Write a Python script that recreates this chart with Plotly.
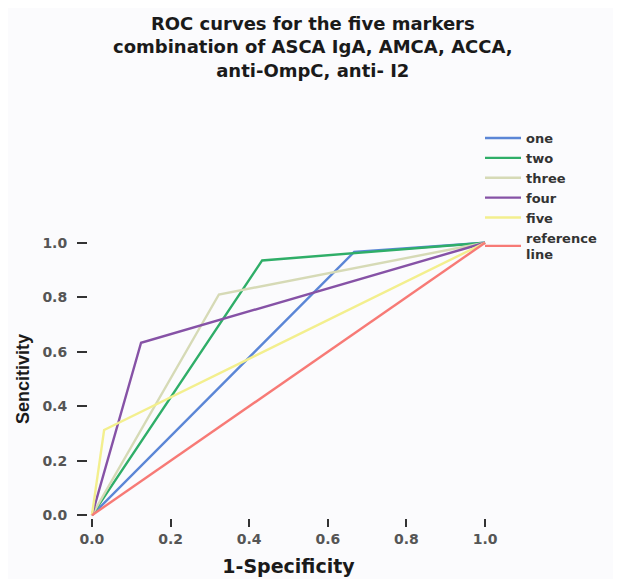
import plotly.graph_objects as go

series_names = ["one", "two", "three", "four", "five", "reference<br>line"]
x_one = [0.0, 0.667, 1.0]
y_one = [0.0, 0.966, 1.0]
x_two = [0.0, 0.433, 1.0]
y_two = [0.0, 0.935, 1.0]
x_three = [0.0, 0.323, 1.0]
y_three = [0.0, 0.81, 1.0]
x_four = [0.0, 0.125, 1.0]
y_four = [0.0, 0.633, 1.0]
x_five = [0.0, 0.031, 1.0]
y_five = [0.0, 0.313, 1.0]
x_ref = [0.0, 1.0]
y_ref = [0.0, 1.0]
tick_vals = [0.0, 0.2, 0.4, 0.6, 0.8, 1.0]
tick_text = ["0.0", "0.2", "0.4", "0.6", "0.8", "1.0"]
title_lines = ["ROC curves for the five markers",
               "combination of ASCA IgA, AMCA, ACCA,",
               "anti-OmpC, anti- I2"]

colors = ["#5b86d6", "#2fae68", "#d6dab6", "#8652a6", "#f3ef8e", "#f77a76"]
xs = [x_one, x_two, x_three, x_four, x_five, x_ref]
ys = [y_one, y_two, y_three, y_four, y_five, y_ref]

fig = go.Figure()
for i, (name, x, y, c) in enumerate(zip(series_names, xs, ys, colors)):
    fig.add_trace(go.Scatter(x=x, y=y, mode="lines", name=name,
                             line=dict(color=c, width=2.4)))

W, H = 621, 579
ML, MR, MT, MB = 80, 140, 232, 69
PW, PH = W - ML - MR, H - MT - MB
fig.add_annotation(text="<br>".join(title_lines), xref="paper", yref="paper",
                   x=(305 - ML) / PW, y=(H - MB - 39) / PH,
                   xanchor="center", yanchor="middle", showarrow=False,
                   align="center",
                   font=dict(family="DejaVu Sans", size=18, color="#1a1a1a", weight="bold"))

bg = "#fbfbfd"
fig.update_layout(
    width=W, height=H,
    paper_bgcolor=bg, plot_bgcolor=bg,
    margin=dict(l=ML, r=MR, t=MT, b=MB, autoexpand=False),
    showlegend=True,
    legend=dict(
        xref="container", yref="container",
        x=472 / W, y=1 - 115 / H, xanchor="left", yanchor="top",
        font=dict(family="DejaVu Sans", size=13, color="#333333", weight="bold"),
        bgcolor="rgba(0,0,0,0)",
        itemwidth=36,
    ),
    xaxis=dict(
        range=[-0.01, 1.01], tickvals=tick_vals, ticktext=tick_text,
        showgrid=False, zeroline=False, showline=False, automargin=False,
        ticks="outside", ticklen=8, tickwidth=2, tickcolor="#333333",
        tickfont=dict(family="DejaVu Sans", size=14, color="#555555", weight="bold"),
        title=dict(text="1-Specificity", standoff=13,
                   font=dict(family="DejaVu Sans", size=19, color="#1a1a1a", weight="bold")),
    ),
    yaxis=dict(
        range=[-0.01, 1.01], tickvals=tick_vals, ticktext=tick_text,
        showgrid=False, zeroline=False, showline=False, automargin=False,
        ticks="outside", ticklen=10, tickwidth=2, tickcolor="#333333",
        ticklabelstandoff=7,
        tickfont=dict(family="DejaVu Sans", size=14, color="#555555", weight="bold"),
        title=dict(text="Sencitivity", standoff=8,
                   font=dict(family="Liberation Sans", size=18, color="#1a1a1a", weight="bold")),
    ),
)

fig.write_html("out.html")
